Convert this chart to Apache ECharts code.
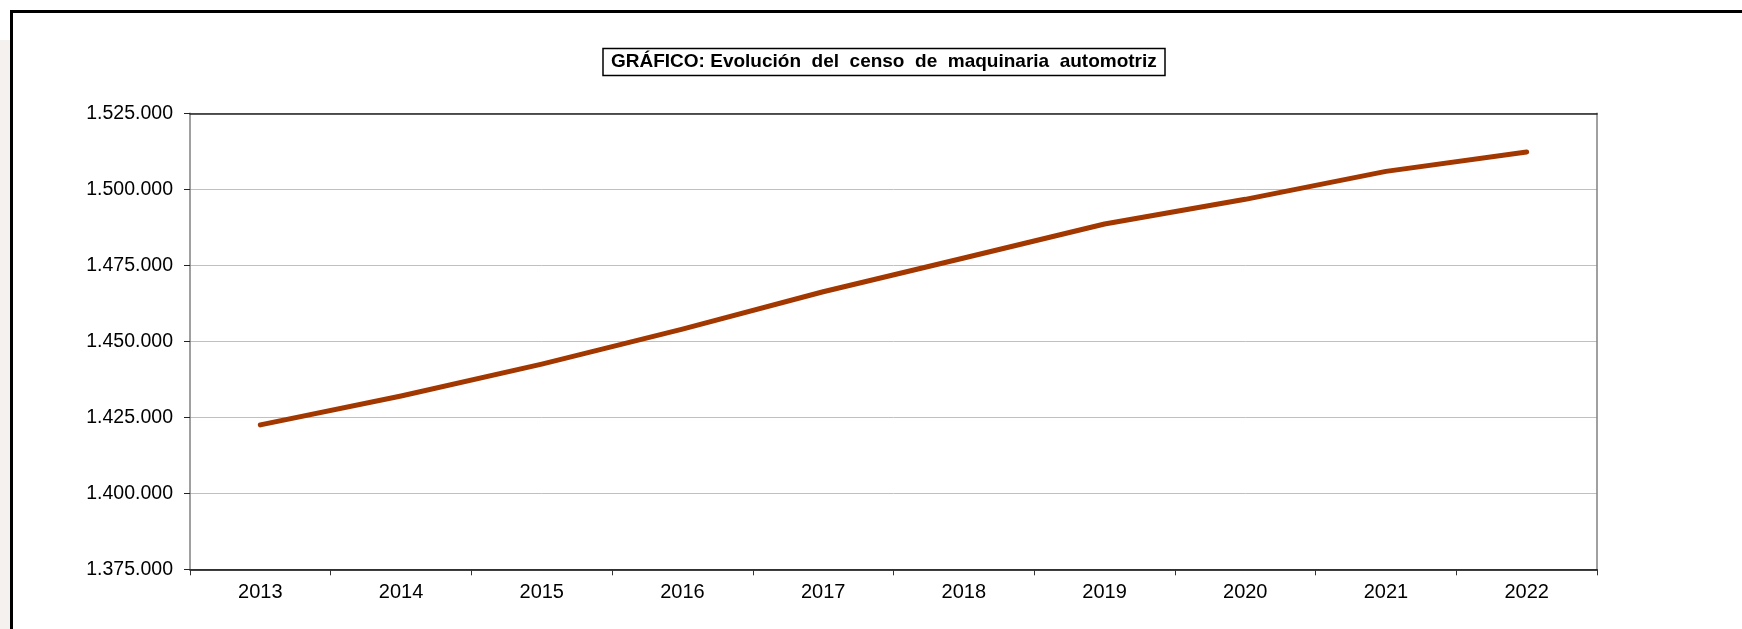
<!DOCTYPE html>
<html>
<head>
<meta charset="utf-8">
<script src="https://cdn.jsdelivr.net/npm/echarts@6/dist/echarts.min.js"></script>
<style>
html,body{margin:0;padding:0;background:#fff;}
#chart{width:1742px;height:629px;}
</style>
</head>
<body>
<div id="chart"></div>
<script>
const titleText = 'GRÁFICO: Evolución  del  censo  de  maquinaria  automotriz';
const years = ['2013','2014','2015','2016','2017','2018','2019','2020','2021','2022'];
const censo = [1422500, 1432000, 1442500, 1454000, 1466300, 1477400, 1488600, 1496700, 1505900, 1512300];
const yMin = 1375000;
const yMax = 1525000;
const yStep = 25000;

function fmt(v){
  return String(Math.round(v)).replace(/\B(?=(\d{3})+(?!\d))/g, '.');
}

const chart = echarts.init(document.getElementById('chart'), null, {renderer:'canvas'});
const font = '"Liberation Sans", Arial, sans-serif';
chart.setOption({
  animation:false,
  backgroundColor:'#fff',
  title:{
    text:titleText,
    left:603,
    top:48.5,
    borderColor:'#000',
    borderWidth:1.5,
    padding:[4,8,4,8],
    textStyle:{fontFamily:font,fontSize:19,fontWeight:'bold',color:'#000'}
  },
  graphic:[
    {type:'rect',shape:{x:0,y:40,width:10,height:600},style:{fill:'#f4f1ee'},silent:true},
    {type:'rect',shape:{x:11.5,y:11.5,width:1800,height:700},style:{fill:'none',stroke:'#000',lineWidth:3},silent:true}
  ],
  grid:{left:190,top:113.3,right:145,bottom:59.7,containLabel:false},
  xAxis:[{
    type:'category',
    data:years,
    boundaryGap:true,
    axisLine:{lineStyle:{color:'#000',width:1.5}},
    axisTick:{show:true,alignWithLabel:false,length:6,inside:false,lineStyle:{color:'#333',width:1}},
    axisLabel:{fontFamily:font,fontSize:20,color:'#000',margin:13,interval:0},
    splitLine:{show:false}
  },{
    type:'category',
    data:years,
    position:'top',
    boundaryGap:true,
    axisLine:{show:true,lineStyle:{color:'#222',width:1.5}},
    axisTick:{show:false},
    axisLabel:{show:false},
    splitLine:{show:false}
  }],
  yAxis:[{
    type:'value',
    min:yMin,max:yMax,interval:yStep,
    axisLine:{show:true,lineStyle:{color:'#808080',width:1.5}},
    axisTick:{show:true,length:6,lineStyle:{color:'#222',width:1}},
    axisLabel:{fontFamily:font,fontSize:19.5,color:'#000',margin:17,formatter:fmt},
    splitLine:{show:true,lineStyle:{color:'#c0c0c0',width:1}}
  },{
    type:'value',
    min:yMin,max:yMax,interval:yStep,
    position:'right',
    axisLine:{show:true,lineStyle:{color:'#808080',width:1.5}},
    axisTick:{show:false},
    axisLabel:{show:false},
    splitLine:{show:false}
  }],
  series:[{
    type:'line',
    data:censo,
    xAxisIndex:0,
    yAxisIndex:0,
    showSymbol:false,
    symbol:'none',
    lineStyle:{color:'#a33700',width:5,cap:'round',join:'round'},
    itemStyle:{color:'#a33700'}
  }]
});
</script>
</body>
</html>
